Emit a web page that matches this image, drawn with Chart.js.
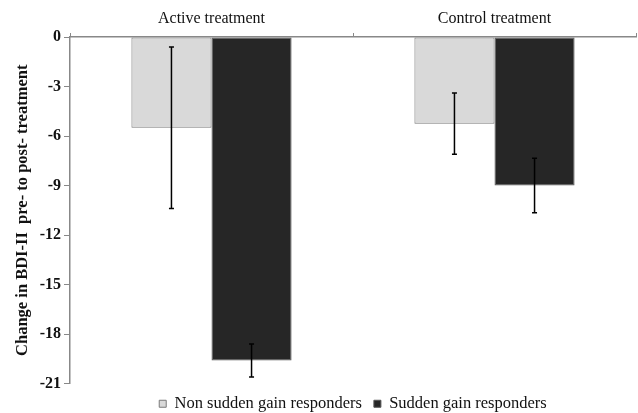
<!DOCTYPE html>
<html>
<head>
<meta charset="utf-8">
<script src="https://cdn.jsdelivr.net/npm/chart.js@4.4.1/dist/chart.umd.min.js"></script>
<style>
    html, body { margin: 0; padding: 0; background: #fff; }
    #wrap { width: 638px; height: 413px; }
</style>
</head>
<body>
<div id="wrap"><canvas id="chart"></canvas></div>
<script>
const categories = ['Active treatment', 'Control treatment'];
const seriesNames = ['Non sudden gain responders', 'Sudden gain responders'];
const nonSuddenValues = [-5.5, -5.25];
const nonSuddenErrors = [4.9, 1.85];
const suddenValues = [-19.6, -9.0];
const suddenErrors = [1.0, 1.65];
const yTicks = [0, -3, -6, -9, -12, -15, -18, -21];

const FONT = '"Liberation Serif", "Times New Roman", serif';

const errorBars = {
    id: 'errorBars',
    afterDatasetsDraw(chart) {
        const ctx = chart.ctx;
        const y = chart.scales.y;
        ctx.save();
        ctx.strokeStyle = '#000';
        ctx.lineWidth = 1.5;
        chart.data.datasets.forEach((ds, i) => {
            const meta = chart.getDatasetMeta(i);
            meta.data.forEach((bar, j) => {
                const v = ds.data[j];
                const e = ds.errors[j];
                const top = y.getPixelForValue(v + e);
                const bottom = y.getPixelForValue(v - e);
                ctx.beginPath();
                ctx.moveTo(bar.x, top);
                ctx.lineTo(bar.x, bottom);
                ctx.moveTo(bar.x - 2.5, top);
                ctx.lineTo(bar.x + 2.5, top);
                ctx.moveTo(bar.x - 2.5, bottom);
                ctx.lineTo(bar.x + 2.5, bottom);
                ctx.stroke();
            });
        });
        ctx.restore();
    }
};

// centre the legend under the plot area rather than the whole canvas
const legendUnderPlot = {
    id: 'legendUnderPlot',
    afterLayout(chart) {
        const legend = chart.legend;
        if (!legend) return;
        const shift = (chart.chartArea.left + chart.chartArea.right) / 2 - (legend.left + legend.right) / 2;
        legend.left += shift;
        legend.right += shift;
    }
};

new Chart(document.getElementById('chart'), {
    type: 'bar',
    data: {
        labels: categories,
        datasets: [{
            label: seriesNames[0],
            data: nonSuddenValues,
            errors: nonSuddenErrors,
            backgroundColor: '#d9d9d9',
            borderColor: '#7a7a7a',
            borderWidth: 1,
            borderSkipped: false
        }, {
            label: seriesNames[1],
            data: suddenValues,
            errors: suddenErrors,
            backgroundColor: '#262626',
            borderColor: '#555',
            borderWidth: 1,
            borderSkipped: false
        }]
    },
    options: {
        responsive: true,
        maintainAspectRatio: false,
        animation: false,
        categoryPercentage: 0.566,
        barPercentage: 1.0,
        layout: { padding: { left: 13, right: 2, top: 4, bottom: -9 } },
        plugins: {
            tooltip: { enabled: false },
            legend: {
                position: 'bottom',
                labels: {
                    color: '#111',
                    font: { family: FONT, size: 16.5 },
                    boxWidth: 7,
                    boxHeight: 7,
                    padding: 12
                }
            }
        },
        scales: {
            x: {
                position: 'top',
                grid: { display: true, drawOnChartArea: false, offset: true, tickLength: 4, color: '#888' },
                border: { display: true, color: '#888', width: 1.5 },
                ticks: { color: '#111', font: { family: FONT, size: 16 }, padding: 5 },
                afterFit(scale) { scale.height = 33; }
            },
            y: {
                min: -21,
                max: 0,
                afterBuildTicks(scale) { scale.ticks = yTicks.map(v => ({ value: v })); },
                grid: { display: true, drawOnChartArea: false, tickLength: 6, color: '#888' },
                border: { display: true, color: '#888', width: 1.5 },
                ticks: { color: '#111', font: { family: FONT, size: 16, weight: 'bold' }, padding: 3 },
                title: {
                    display: true,
                    text: 'Change in BDI-II  pre- to post- treatment',
                    color: '#111',
                    font: { family: FONT, size: 16.5, weight: 'bold' },
                    padding: { top: 0, bottom: 4 }
                },
                afterFit(scale) { scale.width = 57; }
            }
        }
    },
    plugins: [errorBars, legendUnderPlot]
});
</script>
</body>
</html>
